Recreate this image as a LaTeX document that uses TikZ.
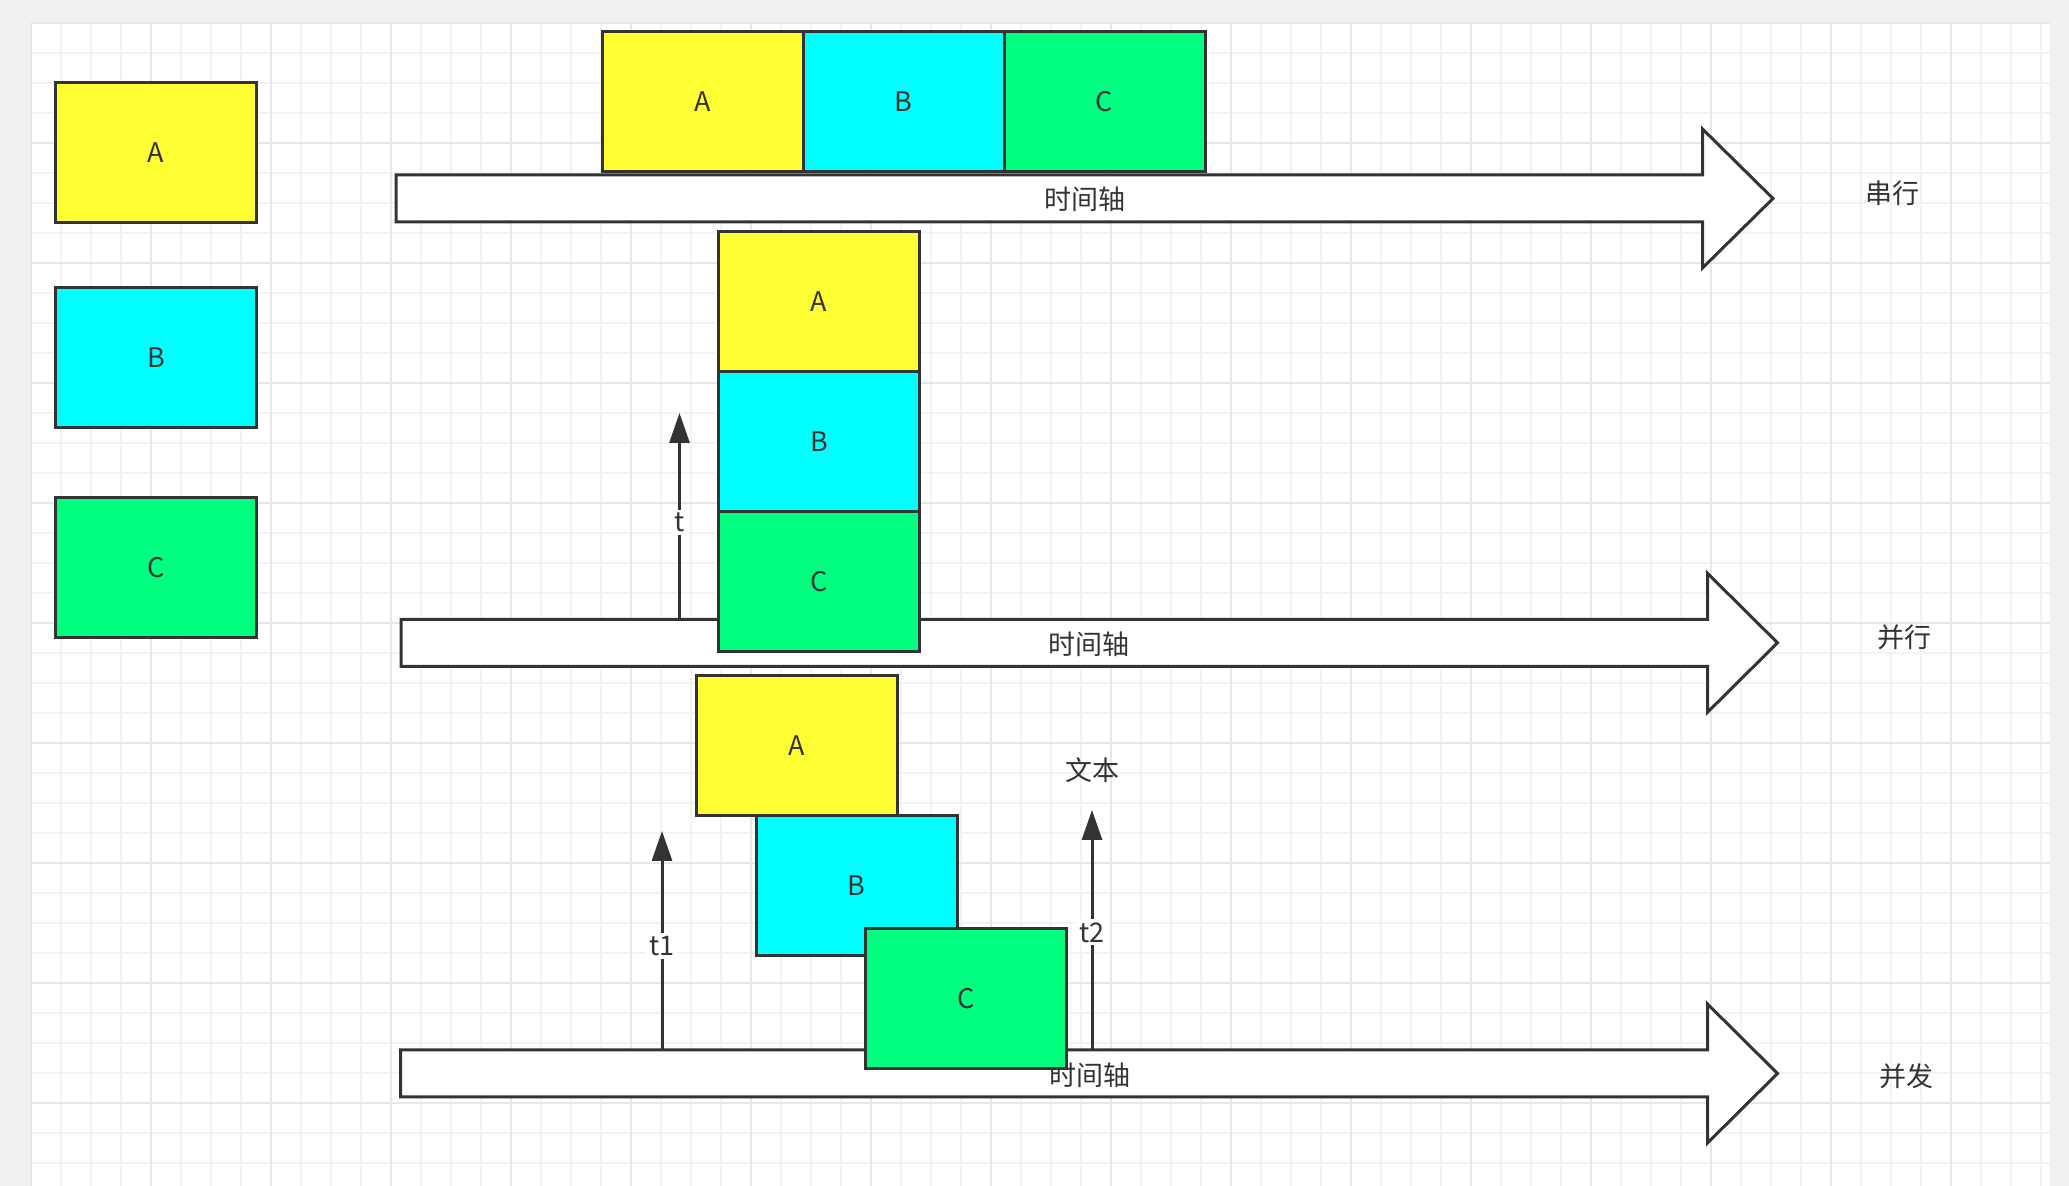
\documentclass[tikz,border=0pt]{standalone}
\usepackage{fontspec}
\setmainfont{Noto Sans CJK SC}
\usepackage{xcolor}
\usetikzlibrary{positioning, arrows.meta}
\definecolor{linegray}{HTML}{333333}
\definecolor{pagegray}{HTML}{F1F1F1}
\definecolor{gridminor}{HTML}{F3F3F3}
\definecolor{gridmajor}{HTML}{E7E7E7}
\definecolor{boxyellow}{HTML}{FFFF33}
\definecolor{boxcyan}{HTML}{00FFFF}
\definecolor{boxgreen}{HTML}{00FF80}
\tikzset{
  task/.style={
    draw=linegray, fill=#1, line width=1.5pt, outer sep=0pt,
    minimum width=100.5pt, minimum height=70pt, inner sep=0pt,
    text=linegray, font=\fontsize{13.5}{16}\selectfont
  },
  axis/.style={draw=linegray, fill=white, line width=1.5pt, line join=miter},
  tarrow/.style={draw=linegray, line width=1.5pt, -{Triangle[length=15pt, width=10pt]}},
  tlabel/.style={fill=white, inner sep=1.5pt, text=linegray, font=\fontsize{13.5}{16}\selectfont},
  plain/.style={inner sep=1pt, text=linegray, font=\fontsize{13.5}{16}\selectfont}
}

\begin{document}
\begin{tikzpicture}[x=0.5pt, y=-0.5pt]
\def\sh{23.5}  % half shaft
\def\hh{69.5}  % half head
\useasboundingbox (0,0) rectangle (2069,1186);

%% Canvas and grid
\fill[pagegray] (0,0) rectangle (2069,1186);
\fill[white] (31,23) rectangle (2050,1186);
\foreach \i in {0,...,67}
  \draw[gridminor, line width=0.6pt] ({31+30*\i},23) -- ({31+30*\i},1186);
\foreach \j in {0,...,38}
  \draw[gridminor, line width=0.6pt] (31,{23+30*\j}) -- (2050,{23+30*\j});
\foreach \i in {0,...,16}
  \draw[gridmajor, line width=0.8pt] ({31+120*\i},23) -- ({31+120*\i},1186);
\foreach \j in {0,...,9}
  \draw[gridmajor, line width=0.8pt] (31,{23+120*\j}) -- (2050,{23+120*\j});

%% Legend
\node[task=boxyellow] (lA) at (156,153) {A};
\node[task=boxcyan] (lB) at (156,358) {B};
\node[task=boxgreen] (lC) at (156,567.5) {C};

%% Serial
\draw[axis] (396,{198.5-\sh}) -- (1702.5,{198.5-\sh}) -- (1702.5,{198.5-\hh})
  -- (1773,198.5) -- (1702.5,{198.5+\hh}) -- (1702.5,{198.5+\sh})
  -- (396,{198.5+\sh}) -- cycle;
\node[plain] (axisS) at (1084.5,199.5) {时间轴};
\node[plain] (rowS) at (1892.5,193.5) {串行};
\node[task=boxyellow] (sA) at (702.5,102) {A};
\node[task=boxcyan, right=0pt of sA] (sB) {B};
\node[task=boxgreen, right=0pt of sB] (sC) {C};

%% Parallel
\draw[axis] (401,{642.8-\sh}) -- (1707.5,{642.8-\sh}) -- (1707.5,{642.8-\hh})
  -- (1777.5,642.8) -- (1707.5,{642.8+\hh}) -- (1707.5,{642.8+\sh})
  -- (401,{642.8+\sh}) -- cycle;
\node[plain] (axisP) at (1089,644) {时间轴};
\node[plain] (rowP) at (1904,637.5) {并行};
\coordinate (tFrom) at (679.5,{642.8-\sh});
\coordinate (tTo) at (679.5,413);
\draw[tarrow] (tFrom) -- node[tlabel, pos=0.47] (tLab) {t} (tTo);
\node[task=boxyellow] (pA) at (819,302) {A};
\node[task=boxcyan, below=0pt of pA] (pB) {B};
\node[task=boxgreen, below=0pt of pB] (pC) {C};

%% Concurrent
\draw[axis] (400.5,{1073.5-\sh}) -- (1707.5,{1073.5-\sh}) -- (1707.5,{1073.5-\hh})
  -- (1777.5,1073.5) -- (1707.5,{1073.5+\hh}) -- (1707.5,{1073.5+\sh})
  -- (400.5,{1073.5+\sh}) -- cycle;
\node[plain] (axisC) at (1089.5,1075) {时间轴};
\node[plain] (rowC) at (1906,1076.5) {并发};
\coordinate (t1From) at (662,{1073.5-\sh});
\coordinate (t1To) at (662,831);
\draw[tarrow] (t1From) -- node[tlabel, pos=0.475] (t1Lab) {t1} (t1To);
\coordinate (t2From) at (1092,{1073.5-\sh});
\coordinate (t2To) at (1092,810);
\draw[tarrow] (t2From) -- node[tlabel, pos=0.49] (t2Lab) {t2} (t2To);
\node[plain] (note) at (1092,770) {文本};
\node[task=boxyellow] (cA) at (797,746) {A};
\node[task=boxcyan] (cB) at (856.5,885.5) {B};
\node[task=boxgreen] (cC) at (966,999) {C};
\end{tikzpicture}
\end{document}
